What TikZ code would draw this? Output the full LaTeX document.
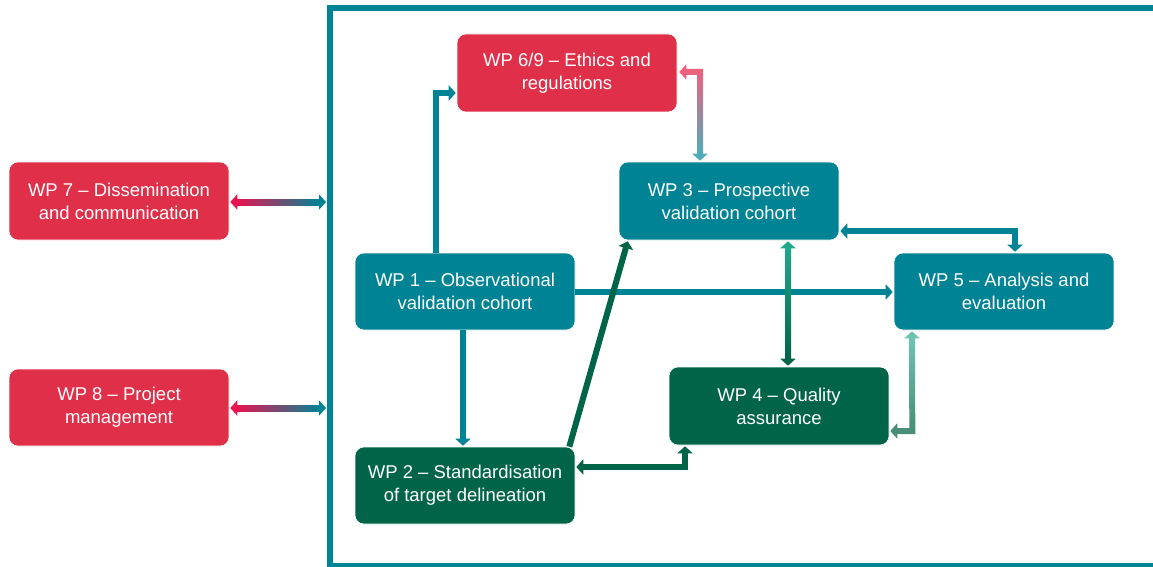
\documentclass[tikz,border=0pt]{standalone}
\usepackage{fontspec}
\setmainfont{Liberation Sans}
\usetikzlibrary{arrows.meta,calc}
\definecolor{wpred}{RGB}{224,47,72}
\definecolor{wpteal}{RGB}{0,131,148}
\definecolor{wpgreen}{RGB}{0,101,72}
\definecolor{gpink}{RGB}{232,20,80}
\definecolor{lpink}{RGB}{240,96,126}
\definecolor{lteal}{RGB}{78,172,186}
\definecolor{mgreen}{RGB}{32,168,138}
\definecolor{pgreen}{RGB}{108,196,176}
\definecolor{sgreen}{RGB}{72,140,118}
\begin{document}
\begin{tikzpicture}[x=1pt,y=-1pt,
  wp/.style={draw=white, line width=0.6pt, rounded corners=9pt, minimum width=220pt,
    minimum height=78pt, text=white, align=center, inner sep=0pt,
    font=\fontsize{18.5}{23}\selectfont},
  conn/.style={line width=6pt, -{Triangle[width=15pt,length=7pt]}},
  conn2/.style={line width=6pt, {Triangle[width=15pt,length=7pt]}-{Triangle[width=15pt,length=7pt]}},
  hd/.style={line width=6pt, {Triangle[width=15pt,length=7pt]}-},
  framebox/.style={draw=wpteal, line width=6pt}]
\clip (0,0) rectangle (1153,567);
\fill[white] (0,0) rectangle (1153,567);
% outer frame
\draw[framebox] (329.5,8.5) rectangle (1175,565.5);
% nodes
\node[wp, fill=wpred]   (w7)  at (119,201)   {WP 7 -- Dissemination\\and communication};
\node[wp, fill=wpred, minimum height=77pt] (w8)  at (119,407.5) {WP 8 -- Project\\management};
\node[wp, fill=wpred]   (w69) at (567,73)    {WP 6/9 -- Ethics and\\regulations};
\node[wp, fill=wpteal]  (w3)  at (729,201)   {WP 3 -- Prospective\\validation cohort};
\node[wp, fill=wpteal, minimum height=77pt] (w1)  at (465,291.5) {WP 1 -- Observational\\validation cohort};
\node[wp, fill=wpteal, minimum height=77pt] (w5)  at (1004,291.5) {WP 5 -- Analysis and\\evaluation};
\node[wp, fill=wpgreen] (w4)  at (779,406)   {WP 4 -- Quality\\assurance};
\node[wp, fill=wpgreen, minimum height=77pt] (w2)  at (465,485.5) {WP 2 -- Standardisation\\of target delineation};
% frame connection points
\coordinate (f7) at (326,202);
\coordinate (f8) at (326,408);
% WP7 <-> frame
\coordinate (a7l) at ($(w7.east)+(1,1)$);
\shade[left color=gpink, right color=wpteal] ($(a7l)+(6,-3)$) rectangle ($(f7)+(-6,3)$);
\draw[hd, gpink] (a7l) -- ++(9,0);
\draw[hd, wpteal] (f7) -- ++(-9,0);
% WP8 <-> frame
\coordinate (a8l) at ($(w8.east)+(1,0.5)$);
\shade[left color=gpink, right color=wpteal] ($(a8l)+(6,-3)$) rectangle ($(f8)+(-6,3)$);
\draw[hd, gpink] (a8l) -- ++(9,0);
\draw[hd, wpteal] (f8) -- ++(-9,0);
% WP1 -> WP6/9
\draw[conn, wpteal] ($(w1.north)+(-29,0)$) |- ($(w69.west)+(-1,20)$);
% WP6/9 <-> WP3
\coordinate (a4s) at ($(w69.east)+(2,-1)$);
\coordinate (a4c) at ($(w3.north |- a4s)+(-29,0)$);
\coordinate (a4e) at ($(w3.north)+(-29,-1)$);
\shade[top color=lpink, bottom color=lteal]
  ($(a4s)+(6,-3)$) -- ($(a4c)+(3,-3)$) -- ($(a4e)+(3,-6)$) -- ($(a4e)+(-3,-6)$)
  -- ($(a4c)+(-3,3)$) -- ($(a4s)+(6,3)$) -- cycle;
\draw[hd, lpink] (a4s) -- ++(9,0);
\draw[hd, lteal] (a4e) -- ++(0,-9);
% WP1 -> WP5
\draw[conn, wpteal] ($(w1.east)+(0,0.5)$) -- ($(w5.west)+(-1,0.5)$);
% WP1 -> WP2
\draw[conn, wpteal] ($(w1.south)+(-2,0)$) -- ($(w2.north)+(-2,-1)$);
% WP2 -> WP3
\draw[conn, wpgreen] ($(w2.north east)+(-6,0)$) -- ($(w3.south west)+(9,1)$);
% WP3 <-> WP4
\coordinate (a34t) at ($(w3.south)+(59,1)$);
\coordinate (a34b) at ($(w4.north)+(9,-1)$);
\shade[top color=mgreen, bottom color=wpgreen] ($(a34t)+(-3,6)$) rectangle ($(a34b)+(3,-6)$);
\draw[hd, mgreen] (a34t) -- ++(0,9);
\draw[hd, wpgreen] (a34b) -- ++(0,-9);
% WP3 <-> WP5
\draw[conn2, wpteal] ($(w3.east)+(1,30)$) -| ($(w5.north)+(11,-1)$);
% WP5 <-> WP4
\coordinate (a54t) at ($(w5.south)+(-92,1)$);
\coordinate (a54c) at ($(w4.east)+(23,25)$);
\coordinate (a54e) at ($(w4.east)+(1,25)$);
\shade[top color=pgreen, bottom color=sgreen]
  ($(a54t)+(-3,6)$) -- ($(a54t)+(3,6)$) -- ($(a54c)+(3,3)$) -- ($(a54e)+(6,3)$)
  -- ($(a54e)+(6,-3)$) -- ($(a54c)+(-3,-3)$) -- cycle;
\draw[hd, pgreen] (a54t) -- ++(0,9);
\draw[hd, sgreen] (a54e) -- ++(9,0);
% WP2 <-> WP4
\draw[conn2, wpgreen] ($(w2.east)+(1,-18.5)$) -| ($(w4.south)+(-94,1)$);
\end{tikzpicture}
\end{document}
